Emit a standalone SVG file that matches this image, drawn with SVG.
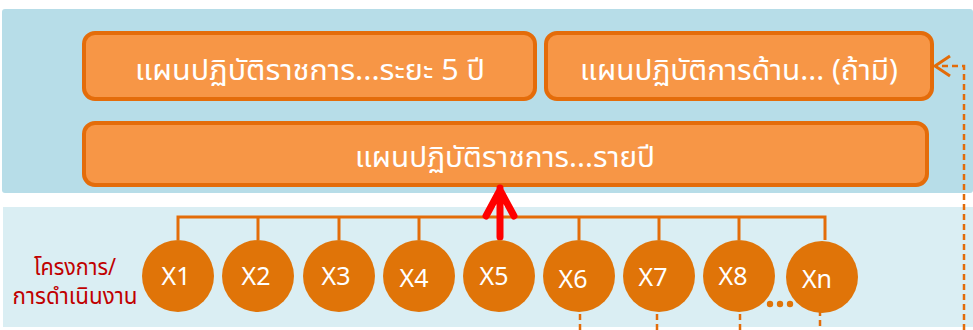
<svg xmlns="http://www.w3.org/2000/svg" width="973" height="330" viewBox="0 0 973 330">
<style>
.box{fill:#F79646;stroke:#E46C0A;stroke-width:4}
.bt{font-family:"Noto Sans Thai","Noto Sans","DejaVu Sans",sans-serif;font-size:29px;fill:#FFFFFF;text-anchor:middle}
.c{fill:#E07408}
.ct{font-family:"Noto Sans","Liberation Sans",sans-serif;font-size:25px;fill:#FFFFFF;text-anchor:middle}
.bus{stroke:#E36C09;stroke-width:3;fill:none}
.dash{stroke:#E36C09;stroke-width:2.5;fill:none;stroke-dasharray:6 4}
.lbl{font-family:"Noto Sans Thai","Noto Sans","DejaVu Sans",sans-serif;font-size:23px;fill:#C00000;text-anchor:middle}
</style>
<rect x="2" y="9" width="971" height="184" rx="3" fill="#B7DDE8"/>
<rect x="3" y="207" width="970" height="120" fill="#DAEEF3"/>
<g id="box1"><rect class="box" x="84" y="33" width="451" height="66" rx="11"/><text class="bt" x="310" y="80" textLength="350" lengthAdjust="spacingAndGlyphs">แผนปฏิบัติราชการ...ระยะ 5 ปี</text></g>
<g id="box2"><rect class="box" x="546" y="33" width="386" height="66" rx="11"/><text class="bt" x="739" y="80" textLength="318" lengthAdjust="spacingAndGlyphs">แผนปฏิบัติการด้าน... (ถ้ามี)</text></g>
<g id="box3"><rect class="box" x="84" y="123" width="843" height="62" rx="11"/><text class="bt" x="505" y="167" textLength="300" lengthAdjust="spacingAndGlyphs">แผนปฏิบัติราชการ...รายปี</text></g>
<g id="label"><text class="lbl" x="75" y="275" textLength="82" lengthAdjust="spacingAndGlyphs">โครงการ/</text><text class="lbl" x="75" y="304" textLength="125" lengthAdjust="spacingAndGlyphs">การดำเนินงาน</text></g>
<g id="connectors">
<path class="bus" d="M178 240V217H825V240M258 217V240M339 217V240M419 217V240M579 217V240M659 217V240M739 217V240"/>
<path d="M500 237V188M486 216L500 190L514 216" stroke="#FF0000" stroke-width="7" fill="none" stroke-linecap="round" stroke-linejoin="round"/>
<path class="dash" d="M580 304V330M657 304V330M740 304V330M820 300V330"/>
<path class="dash" d="M964 330V66H936"/>
<path d="M950 56L935 66L950 76" stroke="#E36C09" stroke-width="3" fill="none"/>
</g>
<g id="X1"><circle class="c" cx="178" cy="276" r="36"/><text class="ct" x="176" y="285">X1</text></g>
<g id="X2"><circle class="c" cx="258" cy="276" r="36"/><text class="ct" x="256" y="285">X2</text></g>
<g id="X3"><circle class="c" cx="339" cy="276" r="36"/><text class="ct" x="336" y="285">X3</text></g>
<g id="X4"><circle class="c" cx="419" cy="276" r="36"/><text class="ct" x="414" y="287">X4</text></g>
<g id="X5"><circle class="c" cx="499" cy="276" r="36"/><text class="ct" x="494" y="285">X5</text></g>
<g id="X6"><circle class="c" cx="579" cy="276" r="36"/><text class="ct" x="573" y="288">X6</text></g>
<g id="X7"><circle class="c" cx="659" cy="276" r="36"/><text class="ct" x="653" y="286">X7</text></g>
<g id="X8"><circle class="c" cx="739" cy="276" r="36"/><text class="ct" x="733" y="285">X8</text></g>
<g id="Xn"><circle class="c" cx="822" cy="277" r="36"/><text class="ct" x="817" y="288">Xn</text></g>
<g id="dots" fill="#E07408"><circle cx="770" cy="304" r="3.2"/><circle cx="780" cy="304" r="3.2"/><circle cx="790" cy="304" r="3.2"/></g>
</svg>
